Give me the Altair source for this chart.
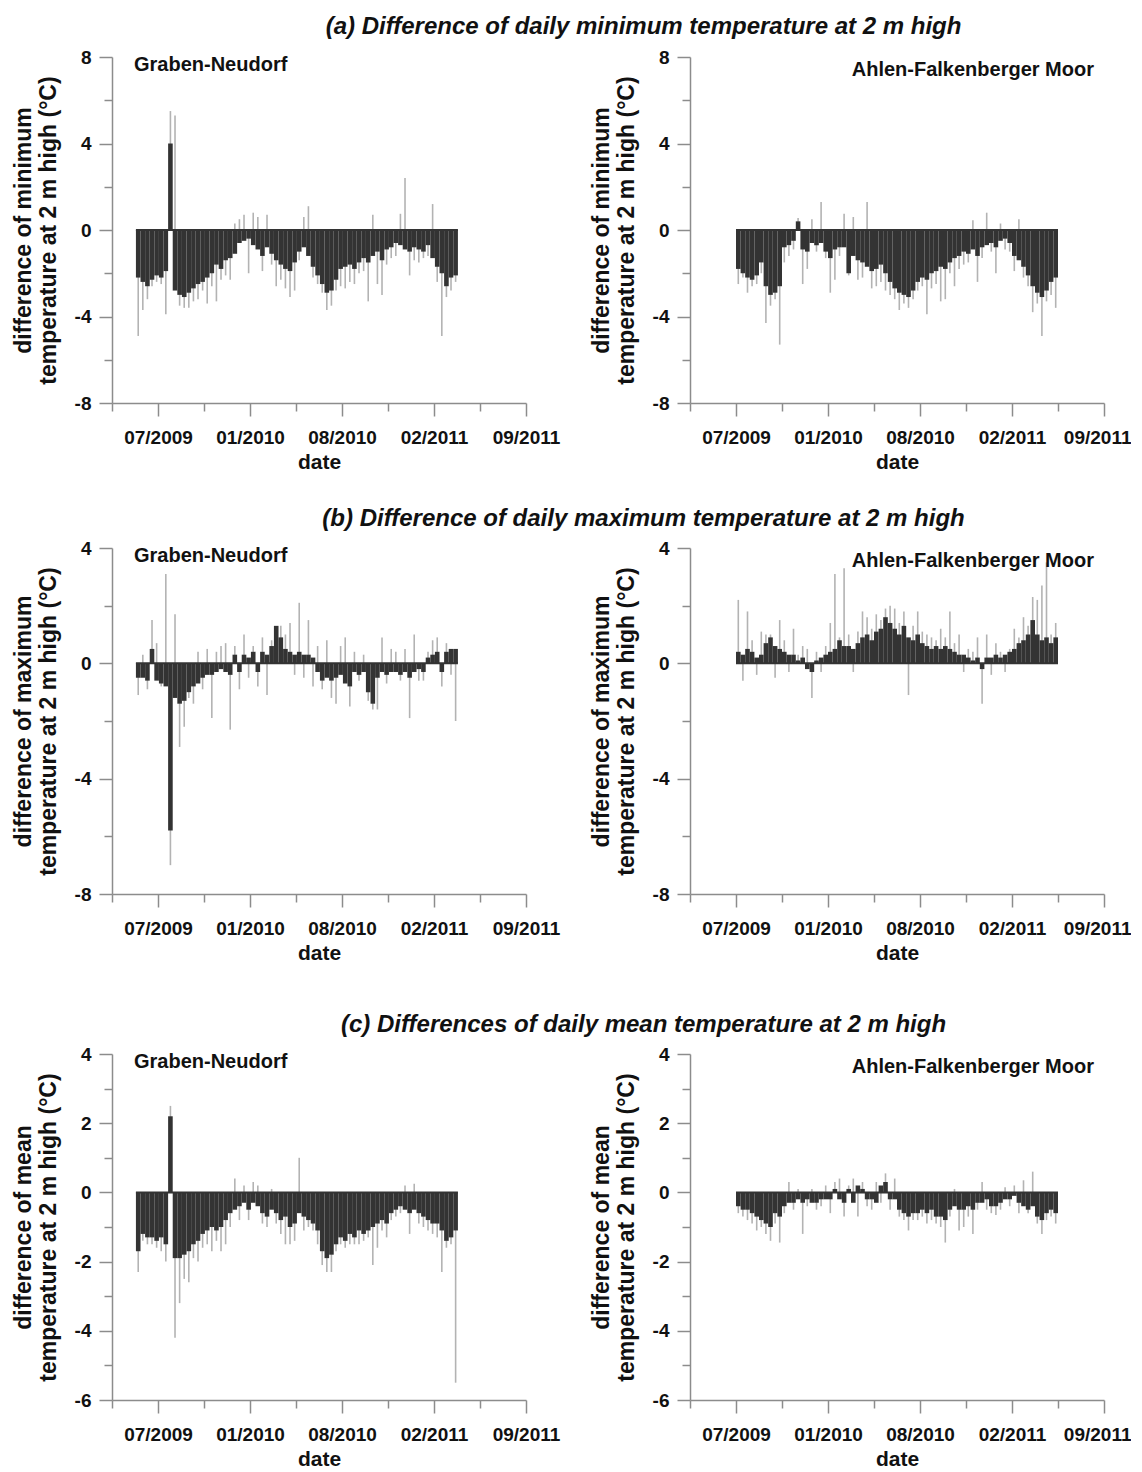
import altair as alt
import pandas as pd

# ---------------- data (10-day resolution) ----------------
REF_DATE = "2009-07-01"            # position of the 07/2009 tick
X_TICK_DAYS = [-100, 0, 100, 200, 300, 400, 500, 600, 700, 800]
X_TICK_LABELS = ["", "07/2009", "", "01/2010", "", "08/2010", "", "02/2011", "", "09/2011"]
STEP = 10
GN_START = "2009-05-14"            # Graben-Neudorf series start
AF_START = "2009-07-01"            # Ahlen-Falkenberger Moor series start

TITLES = ["(a) Difference of daily minimum temperature at 2 m high",
          "(b) Difference of daily maximum temperature at 2 m high",
          "(c) Differences of daily mean temperature at 2 m high"]
Y_TITLES = [["difference of minimum", "temperature at 2 m high (\u00b0C)"],
            ["difference of maximum", "temperature at 2 m high (\u00b0C)"],
            ["difference of mean", "temperature at 2 m high (\u00b0C)"]]
SITES = ["Graben-Neudorf", "Ahlen-Falkenberger Moor"]

a_gn_dark = [-2.2, -2.4, -2.6, -2.3, -2.1, -2.2, -1.9, 4.0, -2.8, -3.0,
             -3.1, -2.9, -2.7, -2.5, -2.4, -2.2, -2.0, -1.6, -1.8, -1.4,
             -1.3, -1.1, -0.6, -0.5, -0.4, -0.7, -0.9, -1.2, -0.8, -1.1,
             -1.4, -1.6, -1.8, -1.9, -1.5, -1.0, -0.8, -1.2, -1.7, -2.1,
             -2.5, -2.9, -2.8, -2.3, -1.8, -1.7, -1.6, -1.8, -1.5, -1.3,
             -1.5, -1.2, -1.0, -1.4, -0.9, -0.8, -0.6, -0.7, -0.9, -1.0,
             -0.8, -0.9, -1.0, -0.7, -1.3, -1.7, -2.0, -2.6, -2.2, -2.1]
a_gn_light = [-4.9, -3.7, -3.2, -2.6, -2.4, -2.5, -3.9, 5.5, 5.3, -3.5,
              -3.6, -3.6, -3.3, -3.2, -2.8, -3.4, -2.6, -3.3, -2.3, -2.1,
              -2.3, 0.3, 0.5, 0.7, -2.0, 0.8, 0.6, -1.9, 0.7, -1.6,
              -2.6, -2.3, -2.7, -3.1, -2.8, -1.4, 0.6, 1.1, -2.2, -2.5,
              -2.9, -3.7, -3.5, -2.8, -2.6, -2.7, -2.4, -2.5, -2.0, -1.9,
              -3.3, 0.7, -2.5, -3.0, -1.6, -1.3, -1.2, 0.75, 2.4, -2.1,
              -1.4, -1.5, -1.3, -1.2, 1.2, -2.4, -4.9, -3.1, -2.8, -2.4]

a_af_dark = [-1.8, -2.0, -2.2, -2.3, -2.1, -1.5, -2.6, -3.0, -2.9, -2.6,
             -0.8, -0.7, -0.5, 0.4, -0.9, -1.0, -0.6, -0.7, -0.6, -1.0,
             -1.3, -0.9, -0.8, -0.8, -2.0, -1.2, -1.4, -1.5, -1.7, -1.9,
             -1.8, -1.6, -2.0, -2.4, -2.7, -2.9, -3.0, -3.1, -2.8, -2.4,
             -2.2, -2.3, -2.0, -1.9, -1.7, -1.8, -1.5, -1.3, -1.2, -1.0,
             -1.1, -0.9, -1.2, -0.8, -0.7, -0.6, -0.8, -0.5, -0.4, -0.6,
             -1.2, -1.4, -1.7, -2.1, -2.6, -2.9, -3.1, -2.8, -2.4, -2.2]
a_af_light = [-2.5, -2.2, -2.9, -2.6, -2.5, -2.0, -4.3, -3.5, -3.2, -5.3,
              -1.5, -1.2, -0.9, 0.55, -2.5, -1.8, 0.5, -1.0, 1.3, -1.3,
              -2.9, -2.3, -1.2, 0.75, -2.1, 0.6, -2.3, -2.2, 1.3, -2.7,
              -2.6, -2.4, -2.8, -3.0, -3.2, -3.7, -3.4, -3.6, -3.2, -2.8,
              -2.6, -3.9, -2.7, -2.5, -3.3, -3.2, -2.0, -2.6, -1.8, -1.6,
              -1.5, 0.45, -2.4, -1.3, 0.8, -1.0, -2.0, 0.3, -0.9, -1.0,
              -1.9, 0.5, -2.2, -2.6, -3.8, -3.4, -4.9, -3.3, -3.0, -3.6]

b_gn_dark = [-0.5, -0.5, -0.6, 0.5, -0.6, -0.7, -0.8, -5.8, -1.2, -1.4,
             -1.3, -1.0, -0.8, -0.7, -0.5, -0.4, -0.4, -0.3, -0.2, -0.3,
             -0.4, 0.3, -0.3, 0.3, 0.2, 0.4, -0.3, 0.4, 0.3, 0.6,
             1.3, 0.9, 0.5, 0.4, 0.3, 0.4, 0.3, 0.3, 0.2, -0.3,
             -0.6, -0.5, -0.6, -0.5, -0.4, -0.7, -0.8, -0.3, -0.4, -0.3,
             -1.0, -1.4, -0.5, -0.3, -0.4, -0.3, -0.3, -0.4, -0.3, -0.5,
             -0.3, -0.2, -0.3, 0.2, 0.3, 0.4, -0.3, 0.4, 0.5, 0.5]
b_gn_light = [-1.1, 0.3, -0.9, 1.5, 0.7, -0.8, 3.1, -7.0, 1.7, -2.9,
              -2.2, -1.2, -1.4, 0.4, -0.9, 0.5, -1.9, 0.4, 0.6, 0.7,
              -2.3, 0.6, -0.9, 1.0, -0.5, 0.6, -0.8, 0.9, -1.1, 0.8,
              1.2, 1.3, 1.0, 1.4, -0.4, 2.1, -0.5, 1.5, -0.8, 0.6,
              -0.9, 0.8, -1.2, -1.4, 0.6, 0.9, -1.5, 0.4, -0.6, 0.3,
              -1.3, -1.6, -1.6, 0.9, -0.7, 0.5, 0.4, -0.6, 0.5, -1.9,
              1.0, -0.6, -0.6, 0.4, 0.8, 0.9, -0.8, 0.7, -0.4, -2.0]

b_af_dark = [0.4, 0.3, 0.5, 0.4, 0.2, 0.3, 0.7, 0.9, 0.6, 0.5,
             0.4, 0.3, 0.3, 0.1, 0.2, -0.2, -0.3, 0.1, 0.2, 0.3,
             0.4, 0.5, 0.8, 0.6, 0.6, 0.5, 0.7, 0.9, 1.0, 0.8,
             1.1, 1.2, 1.6, 1.4, 1.2, 1.0, 1.3, 0.9, 0.8, 1.0,
             0.7, 0.6, 0.5, 0.6, 0.5, 0.6, 0.5, 0.4, 0.3, 0.3,
             0.2, 0.1, 0.2, -0.2, 0.2, 0.2, 0.3, 0.2, 0.3, 0.4,
             0.5, 0.7, 0.8, 1.0, 1.5, 1.0, 0.8, 0.9, 0.7, 0.9]
b_af_light = [2.2, -0.6, 1.8, 0.8, -0.4, 1.1, 1.0, 1.0, -0.5, 1.5,
              0.8, -0.3, 1.2, 0.3, 0.6, 0.5, -1.2, 0.4, -0.3, 0.6,
              1.4, 3.1, 0.9, 3.3, 1.0, -0.3, 1.1, 1.8, 1.6, 1.2,
              1.7, 1.5, 1.9, 2.0, 1.9, 1.4, 1.8, -1.1, 1.3, 1.8,
              1.1, 1.0, 0.9, 0.8, 1.2, 0.9, 1.8, 0.7, 1.0, -0.3,
              0.5, 0.4, 0.9, -1.4, 1.0, -0.4, 0.7, 0.4, -0.3, 0.5,
              1.2, 0.9, 1.6, 1.3, 2.3, 2.2, 2.7, 3.5, 1.0, 1.4]

c_gn_dark = [-1.7, -1.2, -1.3, -1.3, -1.4, -1.3, -1.5, 2.2, -1.9, -1.9,
             -1.8, -1.7, -1.5, -1.4, -1.2, -1.1, -1.0, -1.1, -1.0, -0.8,
             -0.6, -0.5, -0.4, -0.3, -0.5, -0.3, -0.4, -0.6, -0.7, -0.5,
             -0.6, -0.8, -0.7, -1.0, -0.9, -0.6, -0.7, -0.8, -0.9, -1.1,
             -1.7, -1.9, -1.8, -1.5, -1.3, -1.4, -1.2, -1.3, -1.1, -1.2,
             -1.1, -1.0, -0.9, -0.8, -0.9, -0.6, -0.5, -0.4, -0.5, -0.6,
             -0.5, -0.6, -0.7, -0.8, -0.9, -0.9, -1.1, -1.4, -1.3, -1.1]
c_gn_light = [-2.3, -1.4, -1.5, -1.5, -1.6, -1.7, -2.0, 2.5, -4.2, -3.2,
              -2.5, -2.6, -1.9, -2.0, -1.6, -1.5, -1.7, -1.4, -1.7, -1.5,
              -1.0, 0.4, -0.8, 0.2, -0.8, 0.3, 0.2, -0.9, -1.0, 0.1,
              -0.9, -1.2, -1.5, -1.5, -1.4, 1.0, -1.1, -1.0, -1.1, -1.5,
              -2.1, -2.3, -2.3, -1.7, -1.5, -1.6, -1.5, -1.5, -1.5, -1.4,
              -1.3, -2.1, -1.6, -1.1, -1.3, -0.8, -0.7, -0.6, 0.2, -1.2,
              0.25, -0.9, -1.0, -1.1, -1.2, -1.3, -2.3, -1.6, -1.5, -5.5]

c_af_dark = [-0.4, -0.5, -0.5, -0.6, -0.7, -0.8, -0.9, -1.0, -0.6, -0.7,
             -0.4, -0.3, -0.3, -0.2, -0.3, -0.2, -0.3, -0.3, -0.2, -0.2,
             -0.2, 0.1, -0.2, -0.3, 0.1, -0.3, 0.2, 0.1, -0.2, -0.2,
             -0.3, 0.2, 0.3, -0.2, -0.2, -0.5, -0.6, -0.7, -0.6, -0.6,
             -0.5, -0.6, -0.5, -0.7, -0.7, -0.8, -0.5, -0.4, -0.5, -0.5,
             -0.4, -0.5, -0.3, -0.3, -0.2, -0.4, -0.4, -0.3, -0.2, -0.2,
             -0.1, -0.3, -0.4, -0.5, -0.4, -0.7, -0.8, -0.6, -0.5, -0.6]
c_af_light = [-0.6, -0.7, -0.8, -0.9, -1.1, -1.0, -1.2, -1.4, -0.9, -1.45,
              -0.6, 0.3, -0.5, 0.1, -1.2, -0.4, 0.1, -0.5, -0.4, 0.2,
              -0.6, 0.3, 0.4, -0.7, 0.2, 0.4, -0.7, 0.3, -0.4, -0.5,
              0.3, -0.3, 0.55, -0.5, 0.4, -0.7, -0.8, -1.1, -0.8, -0.8,
              -0.7, -0.9, -0.8, -0.9, -1.0, -1.45, -0.7, 0.1, -1.1, -1.0,
              -0.7, -1.2, -0.5, 0.3, -0.5, -0.6, -0.65, -0.5, 0.15, -0.4,
              0.2, -0.6, 0.35, -0.6, 0.6, -0.9, -1.2, -0.8, -0.7, -0.9]

# ---------------- styling ----------------
FONT = "Liberation Sans"
DARK = "#333333"
LIGHT = "#b3b3b3"
AXIS_GREY = "#8c8c8c"
PW, PH = 414, 346

x_label_expr = ""
for d, lab in zip(X_TICK_DAYS, X_TICK_LABELS):
    x_label_expr += f"datum.value == {d} ? '{lab}' : "
x_label_expr += "''"


def panel(dark, light, start, ydom, ystep, major_mod, ytitle, site, right):
    start_day = (pd.Timestamp(start) - pd.Timestamp(REF_DATE)).days
    days = [start_day + STEP * i + STEP / 2 for i in range(len(dark))]
    df = pd.DataFrame({"day": days, "dark": dark, "light": light})
    zero_df = pd.DataFrame({"d0": [days[0] - STEP / 2], "d1": [days[-1] + STEP / 2], "z": [0]})

    yvals = []
    v = ydom[0]
    while v <= ydom[1] + 1e-9:
        yvals.append(v)
        v += ystep
    xs = alt.Scale(domain=[-100, 800], nice=False, zero=False)
    ys = alt.Scale(domain=ydom, nice=False, zero=False)
    flush = dict(labelFlush=True, labelFlushOffset=27) if right else dict(labelFlush=False)
    x_axis = alt.Axis(values=X_TICK_DAYS, labelExpr=x_label_expr, title="date", grid=False,
                      tickSize={"condition": {"test": "datum.value >= 0 && datum.value % 200 == 0",
                                              "value": 13}, "value": 8},
                      labelPadding=12, titlePadding=4, labelOverlap=False, **flush)
    y_axis = alt.Axis(values=yvals, title=ytitle, grid=False,
                      labelExpr=f"datum.value % {major_mod} == 0 ? '' + datum.value : ''",
                      tickSize={"condition": {"test": f"datum.value % {major_mod} == 0", "value": 13},
                                "value": 8},
                      labelPadding=8, titlePadding=14, labelOverlap=False, labelFlush=False)

    base = alt.Chart(df).transform_calculate(z="0", d0=f"datum.day - {STEP / 2}",
                                             d1=f"datum.day + {STEP / 2}")
    light_l = base.mark_rule(color=LIGHT, strokeWidth=1.6).encode(
        x=alt.X("day:Q", scale=xs, axis=x_axis),
        y=alt.Y("light:Q", scale=ys, axis=y_axis),
        y2="z:Q")
    dark_l = base.mark_bar(color=DARK, strokeWidth=0).encode(
        x=alt.X("d0:Q", scale=xs, axis=x_axis), x2="d1:Q",
        y=alt.Y("dark:Q", scale=ys, axis=y_axis), y2="z:Q")
    zero_l = alt.Chart(zero_df).mark_rule(color=DARK, strokeWidth=2).encode(
        x=alt.X("d0:Q", scale=xs, axis=x_axis), x2="d1:Q",
        y=alt.Y("z:Q", scale=ys, axis=y_axis))
    if right:
        txt = alt.Chart(pd.DataFrame({"t": [site]})).mark_text(
            font=FONT, fontWeight="bold", fontSize=20, align="right", baseline="middle",
            color="#111111").encode(text="t:N", x=alt.value(PW - 10), y=alt.value(13))
    else:
        txt = alt.Chart(pd.DataFrame({"t": [site]})).mark_text(
            font=FONT, fontWeight="bold", fontSize=20, align="left", baseline="middle",
            color="#111111").encode(text="t:N", x=alt.value(22), y=alt.value(8))
    return alt.layer(light_l, dark_l, zero_l, txt).properties(width=PW, height=PH)


def row(k, dl, ll, dr, lr, ydom, ystep, major_mod, offset):
    left = panel(dl, ll, GN_START, ydom, ystep, major_mod, Y_TITLES[k], SITES[0], False)
    rightp = panel(dr, lr, AF_START, ydom, ystep, major_mod, Y_TITLES[k], SITES[1], True)
    return alt.hconcat(left, rightp, spacing=30).properties(
        title=alt.TitleParams(TITLES[k], font=FONT, fontSize=24, fontWeight="bold",
                              fontStyle="italic", anchor="middle", offset=offset, dx=72,
                              color="#111111"))


top_rows = alt.vconcat(
    row(0, a_gn_dark, a_gn_light, a_af_dark, a_af_light, [-8, 8], 2, 4, 9),
    row(1, b_gn_dark, b_gn_light, b_af_dark, b_af_light, [-8, 4], 2, 4, 8),
    spacing=35,
)
chart = alt.vconcat(
    top_rows,
    row(2, c_gn_dark, c_gn_light, c_af_dark, c_af_light, [-6, 4], 1, 2, 8),
    spacing=50,
).configure_view(stroke=None).configure_axis(
    domainColor=AXIS_GREY, tickColor=AXIS_GREY, domainWidth=1.5, tickWidth=1.5,
    labelFont=FONT, labelFontWeight="bold", labelFontSize=19, labelColor="#111111",
    titleFont=FONT, titleFontWeight="bold", titleColor="#111111",
).configure_axisX(titleFontSize=21).configure_axisY(titleFontSize=23, titleLineHeight=25
).properties(padding={"top": 7, "left": 4, "right": 0, "bottom": 0})

chart.save("out.html", embed_options={"renderer": "svg", "actions": False})
